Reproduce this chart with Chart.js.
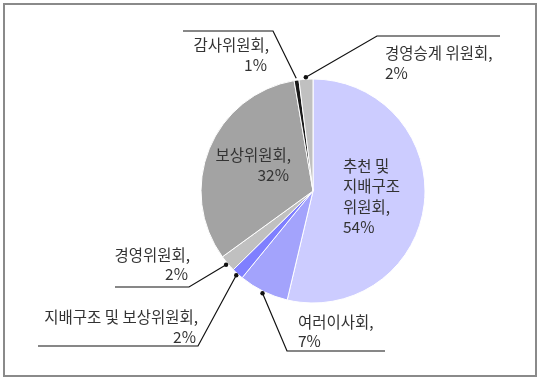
<!DOCTYPE html>
<html>
<head>
<meta charset="utf-8">
<script src="https://cdn.jsdelivr.net/npm/chart.js@4/dist/chart.umd.min.js"></script>
<style>
html,body{margin:0;padding:0;background:#fff;}
#wrap{width:540px;height:381px;position:relative;}
</style>
</head>
<body>
<div id="wrap"><canvas id="c" width="540" height="381"></canvas></div>
<script>
// ---- data ----
const categories = ['추천 및 지배구조 위원회', '여러이사회', '지배구조 및 보상위원회', '경영위원회', '보상위원회', '감사위원회', '경영승계 위원회'];
const shares = [53.7, 7.2, 1.7, 2.4, 32.3, 0.7, 2.0];
const sliceColors = ['#ccccff', '#a3a3fc', '#7f7fff', '#c0c0c0', '#a3a3a3', '#1a1a1a', '#c0c0c0'];

// ---- label layout (annotation placement) ----
const FONT = '15.5px "Noto Sans CJK KR", "Noto Sans", sans-serif';
const layout = [
  {groups:[2,1,1], align:'left', x:343, y:166, lh:20.5},                       // 추천
  {groups:[1], align:'left', x:298, y:322, lh:19, leader:[[287,351],[385,351]], dot:true},
  {groups:[4], align:'right', x:198, y:317, lh:20, leader:[[198,346],[38,346]], dot:true},
  {groups:[1], align:'right', x:190, y:255, lh:19, leader:[[189,287],[115,287]], dot:true},
  {groups:[1], align:'right', x:291, y:155, lh:20},                            // 보상 (inside)
  {groups:[1], align:'right', x:269, y:45, lh:20, leader:[[273,31],[183,31]], dot:false},
  {groups:[2], align:'left', x:385, y:53, lh:20, leader:[[377,36],[500,36]], dot:true}
];

function labelLines(i){
  const words = categories[i].split(' ');
  const g = layout[i].groups;
  const lines = [];
  let k = 0;
  g.forEach(n => { lines.push(words.slice(k, k+n).join(' ')); k += n; });
  lines[lines.length-1] += ',';
  lines.push(Math.round(shares[i]) + '%');
  return lines;
}

const labelPlugin = {
  id:'labels',
  beforeDraw(chart){
    const ctx = chart.ctx;
    ctx.save();
    ctx.fillStyle = '#fff';
    ctx.fillRect(0,0,chart.width,chart.height);
    ctx.restore();
  },
  afterDraw(chart){
    const ctx = chart.ctx;
    const meta = chart.getDatasetMeta(0);
    ctx.save();
    // frame
    ctx.strokeStyle = '#8a8a8a';
    ctx.lineWidth = 2;
    ctx.strokeRect(4, 4, 532, 372);
    // leaders
    meta.data.forEach((arc, i) => {
      const L = layout[i];
      if (!L.leader) return;
      const p = arc.getProps(['x','y','startAngle','endAngle','outerRadius'], true);
      const a = (p.startAngle + p.endAngle) / 2;
      const ex = p.x + Math.cos(a) * (p.outerRadius + 2);
      const ey = p.y + Math.sin(a) * (p.outerRadius + 2);
      ctx.strokeStyle = '#111';
      ctx.lineWidth = 1.2;
      ctx.beginPath();
      ctx.moveTo(L.leader[1][0], L.leader[1][1]);
      ctx.lineTo(L.leader[0][0], L.leader[0][1]);
      ctx.lineTo(ex, ey);
      ctx.stroke();
      if (L.dot){
        ctx.fillStyle = '#111';
        ctx.beginPath();
        ctx.arc(ex, ey, 2.2, 0, Math.PI*2);
        ctx.fill();
      }
    });
    // texts
    ctx.font = FONT;
    ctx.fillStyle = '#333';
    ctx.textBaseline = 'middle';
    layout.forEach((L, i) => {
      const lines = labelLines(i);
      ctx.textAlign = L.align;
      lines.forEach((t, j) => {
        let x = L.x;
        if (L.align === 'right' && j === lines.length - 1) x -= 2;
        ctx.fillText(t, x, L.y + j * L.lh);
      });
    });
    ctx.restore();
  }
};

new Chart(document.getElementById('c'), {
  type:'pie',
  data:{
    labels: categories,
    datasets:[{
      data: shares,
      backgroundColor: sliceColors,
      borderColor:'#ffffff',
      borderWidth:1
    }]
  },
  options:{
    responsive:false,
    animation:false,
    radius:112,
    layout:{padding:{left:86, right:0, top:1, bottom:0}},
    plugins:{legend:{display:false}, tooltip:{enabled:false}}
  },
  plugins:[labelPlugin]
});
</script>
</body>
</html>
